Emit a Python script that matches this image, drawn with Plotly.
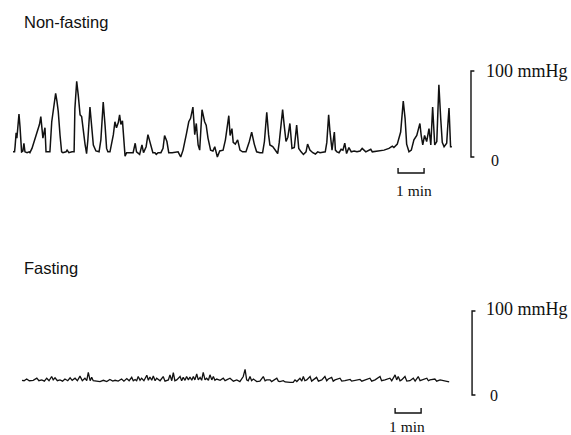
import plotly.graph_objects as go

# ---------------- data (time in minutes, pressure in mmHg) ----------------
nonfasting_time = [
    0.00, 0.06, 0.08, 0.12, 0.15, 0.19, 0.23, 0.27, 0.31, 0.33,
    0.38, 0.42, 0.46, 0.54, 0.62, 0.65, 0.73, 0.81, 0.88, 0.96,
    1.02, 1.07, 1.12, 1.15, 1.19, 1.23, 1.27, 1.35, 1.42, 1.49,
    1.55, 1.64, 1.69, 1.74, 1.81, 1.87, 1.92, 2.04, 2.08, 2.15,
    2.27, 2.35, 2.38, 2.45, 2.51, 2.58, 2.64, 2.70, 2.77, 2.83,
    2.88, 2.96, 3.03, 3.09, 3.19, 3.31, 3.38, 3.47, 3.54, 3.60,
    3.65, 3.73, 3.86, 3.92, 3.98, 4.05, 4.10, 4.15, 4.21, 4.27,
    4.31, 4.37, 4.42, 4.50, 4.62, 4.70, 4.75, 4.87, 4.96, 5.02,
    5.12, 5.19, 5.30, 5.38, 5.46, 5.51, 5.58, 5.69, 5.77, 5.83,
    5.92, 5.99, 6.12, 6.27, 6.35, 6.45, 6.54, 6.67, 6.76, 6.83,
    6.92, 6.99, 7.05, 7.12, 7.18, 7.27, 7.37, 7.43, 7.50, 7.60,
    7.69, 7.76, 7.86, 7.95, 8.08, 8.17, 8.30, 8.35, 8.42, 8.47,
    8.55, 8.64, 8.73, 8.83, 8.96, 9.09, 9.18, 9.28, 9.37, 9.50,
    9.60, 9.67, 9.76, 9.83, 9.88, 9.99, 10.12, 10.18, 10.24, 10.31,
    10.37, 10.43, 10.50, 10.57, 10.65, 10.73, 10.82, 10.91, 10.99, 11.08,
    11.17, 11.27, 11.33, 11.42, 11.53, 11.63, 11.72, 11.81, 11.91, 12.01,
    12.07, 12.14, 12.19, 12.27, 12.36, 12.40, 12.46, 12.54, 12.62, 12.69,
    12.76, 12.83, 12.92, 13.01, 13.12, 13.23, 13.35, 13.43, 13.57, 13.65,
    13.76, 13.82, 14.03, 14.27, 14.46, 14.59, 14.65, 14.78, 14.91, 14.96,
    15.01, 15.08, 15.14, 15.23, 15.32, 15.42, 15.53, 15.58, 15.65, 15.70,
    15.76, 15.83, 15.91, 16.00, 16.07, 16.14, 16.22, 16.30, 16.35, 16.38,
    16.45, 16.51, 16.58, 16.68, 16.73, 16.77, 16.83, 16.88,
]
nonfasting_mmHg = [
    6, 6, 12, 28, 22, 38, 50, 35, 20, 6,
    7, 16, 6, 5, 6, 5, 10, 18, 22, 30,
    38, 47, 35, 22, 28, 34, 6, 6, 6, 41,
    56, 74, 65, 53, 25, 6, 5, 6, 8, 5,
    6, 6, 56, 88, 72, 49, 47, 29, 15, 4,
    20, 58, 37, 14, 7, 6, 20, 64, 37, 10,
    6, 6, 26, 41, 34, 40, 49, 38, 42, 15,
    1, 5, 5, 5.5, 5, 16, 6, 3, 14, 5,
    12, 26, 13, 5, 5, 3, 5, 5, 10, 25,
    18, 5, 5, 6, 6, 0, 8, 27, 41, 45,
    58, 26, 39, 14, 8, 55, 41, 37, 22, 8,
    7, 12, 0, 7, 8, 20, 48, 25, 33, 17,
    15, 20, 8, 6, 6, 18, 29, 15, 6, 5,
    5, 18, 52, 26, 14, 12, 6, 4, 17, 37,
    55, 37, 18, 23, 39, 10, 11, 37, 10, 6,
    3, 6, 15, 8, 5, 3.5, 6, 5, 5.5, 6,
    17, 49, 30, 8, 29, 8, 6, 5, 9, 8,
    16, 4, 11, 6, 7, 6, 7, 10, 6, 7,
    9, 6, 7, 8, 10, 12.6, 11, 15, 29, 50,
    65, 45, 15, 6, 8, 20, 25, 31, 39, 25,
    14, 25, 18, 33, 14, 58, 14, 18, 55, 84,
    45, 17, 12, 16, 40, 57, 12, 12,
]

fasting_time = [
    0.00, 0.08, 0.18, 0.28, 0.43, 0.57, 0.65, 0.76, 0.86, 0.95,
    1.04, 1.14, 1.20, 1.27, 1.36, 1.46, 1.56, 1.65, 1.76, 1.85,
    1.93, 2.04, 2.13, 2.23, 2.32, 2.42, 2.49, 2.55, 2.62, 2.68,
    2.74, 2.87, 3.00, 3.13, 3.26, 3.38, 3.49, 3.58, 3.70, 3.83,
    3.92, 4.03, 4.12, 4.22, 4.28, 4.35, 4.41, 4.47, 4.54, 4.60,
    4.69, 4.80, 4.86, 4.92, 4.99, 5.05, 5.12, 5.18, 5.31, 5.43,
    5.50, 5.63, 5.69, 5.76, 5.82, 5.88, 5.95, 6.08, 6.14, 6.20,
    6.27, 6.33, 6.40, 6.46, 6.53, 6.59, 6.65, 6.72, 6.78, 6.85,
    6.91, 6.97, 7.04, 7.10, 7.17, 7.23, 7.30, 7.36, 7.42, 7.49,
    7.62, 7.74, 7.81, 7.87, 8.00, 8.13, 8.26, 8.38, 8.51, 8.58,
    8.64, 8.70, 8.77, 8.83, 8.90, 9.03, 9.15, 9.28, 9.35, 9.41,
    9.54, 9.60, 9.67, 9.80, 9.86, 9.92, 10.05, 10.12, 10.31, 10.43,
    10.50, 10.57, 10.69, 10.76, 10.82, 10.88, 10.95, 11.08, 11.14, 11.20,
    11.33, 11.40, 11.53, 11.65, 11.72, 11.78, 11.91, 11.97, 12.04, 12.23,
    12.30, 12.42, 12.62, 12.68, 12.81, 13.00, 13.07, 13.19, 13.38, 13.45,
    13.58, 13.77, 13.83, 13.96, 14.15, 14.22, 14.35, 14.41, 14.47, 14.54,
    14.60, 14.73, 14.80, 14.92, 15.05, 15.12, 15.24, 15.31, 15.37, 15.57,
    15.63, 15.69, 15.88, 15.95, 16.08, 16.27, 16.43,
]
fasting_mmHg = [
    17.5, 17, 19, 17, 17.5, 20, 17, 18, 16.5, 20,
    17, 22, 18, 20.5, 17, 18, 16.5, 19, 17, 20.5,
    17.5, 20, 17, 22.5, 17, 20, 17, 27, 17, 21,
    17, 16.5, 16, 17.5, 16, 18.5, 16.5, 17.5, 16.5, 19,
    16.5, 19.5, 17, 21, 17, 18.5, 17, 22, 17.5, 20,
    17, 23.5, 17.5, 21.5, 17.5, 22.5, 17, 20, 17, 22,
    16.5, 18, 24, 17, 26.5, 17, 18, 22, 17, 21,
    17.5, 22, 18, 21.5, 17.5, 22, 18, 25, 18, 21,
    17.5, 27, 18, 20, 17.5, 24, 18, 22, 17.5, 19,
    17.5, 20, 17, 18, 20, 16.5, 18, 16, 22, 30.5,
    18, 17, 22, 17, 19, 16, 16.5, 22, 17, 18,
    18, 16, 17.5, 20, 16.5, 16, 17, 15.5, 15, 15,
    18, 16, 20, 16.5, 22, 17, 18, 22, 16.5, 18,
    21, 16.5, 18, 22, 17, 19, 21, 16.5, 18, 20,
    16.5, 17, 18.5, 16.5, 17, 18.5, 16.5, 18, 20, 16.5,
    18, 22, 17, 18, 20, 17, 24, 18, 22, 17,
    18, 22, 16.5, 17, 20, 16.5, 22, 17, 17.5, 20,
    17, 18, 19, 16.5, 18, 17, 15.5,
]

panel_titles = ["Non-fasting", "Fasting"]
pressure_scale = [0, 100]          # mmHg calibration bar
pressure_labels = ["0", "100 mmHg"]
time_scale_min = 1                 # minutes
time_label = "1 min"

# ---------------- figure ----------------
W, H = 571, 435
SERIF = "Liberation Serif, Times New Roman, serif"
SANS = "Liberation Sans, Arial, Helvetica, sans-serif"
INK = "#111111"

fig = go.Figure()
fig.add_trace(go.Scatter(x=nonfasting_time, y=nonfasting_mmHg, mode="lines",
                         line=dict(color=INK, width=1.5), xaxis="x", yaxis="y",
                         hoverinfo="skip", showlegend=False))
fig.add_trace(go.Scatter(x=fasting_time, y=fasting_mmHg, mode="lines",
                         line=dict(color=INK, width=1.3), xaxis="x2", yaxis="y2",
                         hoverinfo="skip", showlegend=False))

ax_common = dict(visible=False, showgrid=False, zeroline=False, fixedrange=True)
fig.update_layout(
    width=W, height=H,
    margin=dict(l=0, r=0, t=0, b=0),
    paper_bgcolor="white", plot_bgcolor="white",
    hovermode=False,
    xaxis=dict(domain=[0, 1], range=[-13 / 26, (W - 13) / 26], anchor="y", **ax_common),
    yaxis=dict(domain=[1 - 200 / H, 1 - 40 / H], range=[-50, 136.05], anchor="x", **ax_common),
    xaxis2=dict(domain=[0, 1], range=[-22 / 26, (W - 22) / 26], anchor="y2", **ax_common),
    yaxis2=dict(domain=[0, 1 - 290 / H], range=[-47.62, 125], anchor="x2", **ax_common),
)

shapes = []
annotations = []


def add_scales(xr, yr, bar_x, tick, min_x0, min_y, min_tick, lab_x, lab_top_y, zero_x, zero_y,
               min_lab_x, min_lab_y):
    lo, hi = pressure_scale
    shapes.append(dict(type="path", xref=xr, yref=yr,
                       path=f"M {bar_x + tick},{hi} L {bar_x},{hi} L {bar_x},{lo} L {bar_x + tick},{lo}",
                       line=dict(color=INK, width=1.4)))
    x1 = min_x0 + time_scale_min
    shapes.append(dict(type="path", xref=xr, yref=yr,
                       path=f"M {min_x0},{min_y + min_tick} L {min_x0},{min_y} L {x1},{min_y} L {x1},{min_y + min_tick}",
                       line=dict(color=INK, width=1.4)))
    annotations.append(dict(xref=xr, yref=yr, x=lab_x, y=lab_top_y, text=pressure_labels[1],
                            showarrow=False, xanchor="left", yanchor="middle",
                            font=dict(family=SERIF, size=18, color=INK)))
    annotations.append(dict(xref=xr, yref=yr, x=zero_x, y=zero_y, text=pressure_labels[0],
                            showarrow=False, xanchor="left", yanchor="middle",
                            font=dict(family=SERIF, size=16, color=INK)))
    annotations.append(dict(xref=xr, yref=yr, x=min_lab_x, y=min_lab_y, text=time_label,
                            showarrow=False, xanchor="center", yanchor="middle",
                            font=dict(family=SERIF, size=15.5, color=INK)))


add_scales("x", "y", 17.615, 0.13, 14.81, -18.6, 5.8, 18.1, 100, 18.31, -3.5, 15.42, -39.2)
add_scales("x2", "y2", 17.31, 0.13, 14.35, -21.4, 5.9, 17.76, 102, 17.94, 0, 14.81, -37.7)

annotations.append(dict(xref="paper", yref="paper", x=22 / W, y=1 - 22 / H, text=panel_titles[0],
                        showarrow=False, xanchor="left", yanchor="middle",
                        font=dict(family=SANS, size=16.5, color=INK)))
annotations.append(dict(xref="paper", yref="paper", x=22 / W, y=1 - 268 / H, text=panel_titles[1],
                        showarrow=False, xanchor="left", yanchor="middle",
                        font=dict(family=SANS, size=16.5, color=INK)))

fig.update_layout(shapes=shapes, annotations=annotations)
fig.write_html("out.html",
               config={"displayModeBar": False, "staticPlot": True},
               post_script="document.body.style.margin='0';document.body.style.padding='0';")
